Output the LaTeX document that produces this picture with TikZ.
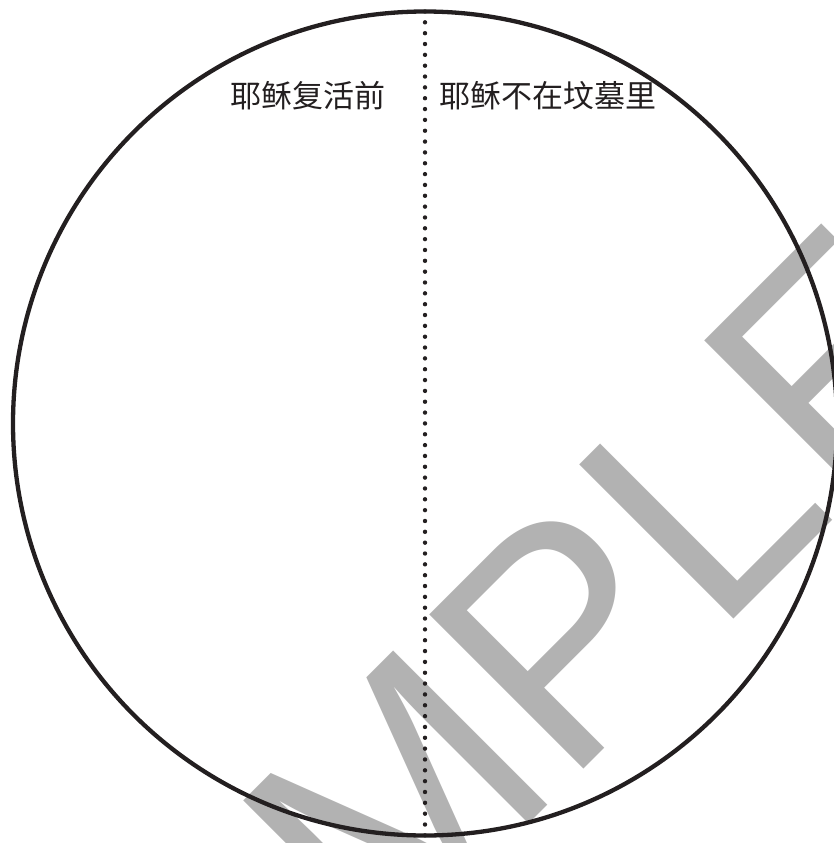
\documentclass[tikz,border=0pt]{standalone}
\usepackage{fontspec}
\newfontfamily\cjk{Noto Sans CJK SC}
\newfontfamily\wmfont{Liberation Sans}
\definecolor{ink}{HTML}{231F20}
\definecolor{wmgray}{gray}{0.70}
\tikzset{
  rim/.style={draw=ink, line width=4.3pt},
  dotline/.style={draw=ink, line width=4.4pt, line cap=round, dash pattern=on 0pt off 10.84pt},
  label/.style={font=\cjk\fontsize{31}{31}\selectfont, text=ink, inner sep=0pt, anchor=base},
  watermark/.style={font=\wmfont\fontsize{317}{317}\selectfont, text=wmgray, inner sep=0pt, anchor=base west, rotate=45}
}
\begin{document}
\begin{tikzpicture}[x=1pt,y=-1pt]
\useasboundingbox (0,0) rectangle (834,843);
\begin{scope}
\clip (0,0) rectangle (834,843);
\node[watermark] (wm) at (80,1273) {SAMPLE};
\end{scope}
\coordinate (c) at (425,423.5);
\draw[rim] (c) circle[radius=412];
\coordinate (ltop) at (425,11.5);
\coordinate (lbot) at (425,835.5);
\draw[dotline] (ltop) -- (lbot);
\node[label] (before) at (307.5,107) {耶稣复活前};
\node[label] (after) at (548,107) {耶稣不在坟墓里};
\end{tikzpicture}
\end{document}
